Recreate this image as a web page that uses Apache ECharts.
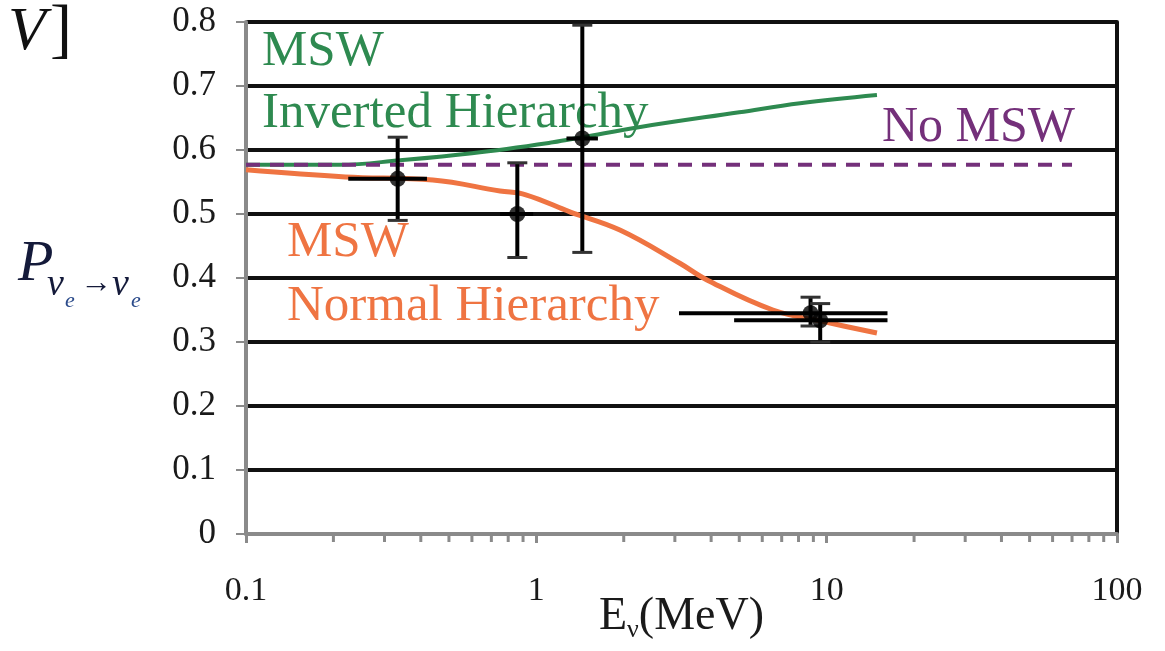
<!DOCTYPE html>
<html>
<head>
<meta charset="utf-8">
<script src="https://cdn.jsdelivr.net/npm/echarts@6/dist/echarts.min.js"></script>
<style>
  html, body { margin: 0; padding: 0; background: #fff; }
  #chart { width: 1165px; height: 651px; }
</style>
</head>
<body>
<div id="chart"></div>
<script>
// survival probability vs neutrino energy (log x)
var yTicks = [0, 0.1, 0.2, 0.3, 0.4, 0.5, 0.6, 0.7, 0.8];
var minorTicks = [0.2, 0.3, 0.4, 0.5, 0.6, 0.7, 0.8, 0.9,
                  2, 3, 4, 5, 6, 7, 8, 9,
                  20, 30, 40, 50, 60, 70, 80, 90];

// MSW inverted hierarchy (green)
var invE = [0.1, 0.21, 0.34, 0.6, 1.14, 1.44, 2.28, 5.0, 8.1, 14.9];
var invP = [0.577, 0.577, 0.584, 0.595, 0.612, 0.62, 0.636, 0.659, 0.673, 0.686];

// MSW normal hierarchy (orange)
var norE = [0.1, 0.22, 0.44, 0.75, 0.92, 1.31, 1.94, 3.12, 3.87, 6.53, 10.2, 14.9];
var norP = [0.569, 0.558, 0.553, 0.536, 0.53, 0.503, 0.475, 0.423, 0.397, 0.35, 0.33, 0.314];

// no MSW (dashed purple)
var noMswE = [0.1, 70];
var noMswP = [0.577, 0.577];

// measurements: energy, P, E low, E high, P low, P high
var measE   = [0.333, 0.86, 1.44, 8.8, 9.5];
var measP   = [0.555, 0.50, 0.618, 0.345, 0.334];
var measElo = [0.225, 0.75, 1.27, 3.1, 4.8];
var measEhi = [0.42, 0.975, 1.63, 16.2, 16.2];
var measPlo = [0.49, 0.432, 0.44, 0.325, 0.30];
var measPhi = [0.62, 0.58, 0.795, 0.37, 0.36];

var serif = '"Liberation Serif", "DejaVu Serif", serif';
var green = '#2e8a50';
var orange = '#ef7442';
var purple = '#74307a';

function pairs(xs, ys) {
    return xs.map(function (x, i) { return [x, ys[i]]; });
}

var errData = measE.map(function (e, i) {
    return [e, measP[i], measElo[i], measEhi[i], measPlo[i], measPhi[i]];
});

var chart = echarts.init(document.getElementById('chart'));

var option = {
    animation: false,
    backgroundColor: '#fff',
    grid: {left: 246, right: 48, top: 22, bottom: 117, containLabel: false, outerBoundsMode: 'none'},
    xAxis: {
        type: 'log',
        logBase: 10,
        min: 0.1,
        max: 100,
        name: '{e|E}{s|ν}{e|(MeV)}',
        nameLocation: 'middle',
        nameGap: 57,
        nameMoveOverlap: false,
        nameTextStyle: {
            rich: {
                e: {fontFamily: serif, fontSize: 46, color: '#1a1a1a'},
                s: {fontFamily: serif, fontSize: 26, color: '#1a1a1a', padding: [26, 0, 0, 0]}
            }
        },
        axisLine: {show: true, lineStyle: {color: '#8a8a8a', width: 4}},
        axisTick: {show: true, length: 9, lineStyle: {color: '#8a8a8a', width: 3}},
        splitLine: {show: false},
        minorTick: {show: false},
        axisLabel: {
            fontFamily: serif, fontSize: 34, color: '#1a1a1a', margin: 40,
            formatter: function (v) { return v < 1 ? v.toFixed(1) : String(Math.round(v)); }
        }
    },
    yAxis: [{
        type: 'value',
        min: 0,
        max: 0.8,
        interval: 0.1,
        axisLine: {show: true, lineStyle: {color: '#8a8a8a', width: 4}},
        axisTick: {show: true, length: 10, lineStyle: {color: '#8a8a8a', width: 2}},
        splitLine: {show: true, showMinLine: false, lineStyle: {color: '#111', width: 4}},
        axisLabel: {
            fontFamily: serif, fontSize: 35, color: '#1a1a1a', margin: 30,
            formatter: function (v) {
                var t = yTicks.find(function (k) { return Math.abs(k - v) < 1e-6; });
                return t === 0 ? '0' : String(t);
            }
        }
    }, {
        type: 'value',
        min: 0,
        max: 0.8,
        position: 'right',
        axisLine: {show: true, lineStyle: {color: '#111', width: 4}},
        axisTick: {show: false},
        axisLabel: {show: false},
        splitLine: {show: false}
    }],
    series: [
        {
            name: 'No MSW',
            type: 'line',
            data: pairs(noMswE, noMswP),
            showSymbol: false,
            lineStyle: {color: purple, width: 4, type: [14, 10]},
            z: 3
        },
        {
            name: 'Inverted',
            type: 'line',
            data: pairs(invE, invP),
            smooth: 0.4,
            showSymbol: false,
            lineStyle: {color: green, width: 4},
            z: 2
        },
        {
            name: 'Normal',
            type: 'line',
            data: pairs(norE, norP),
            smooth: 0.4,
            showSymbol: false,
            lineStyle: {color: orange, width: 5},
            z: 4
        },
        {
            name: 'errors',
            type: 'custom',
            data: errData,
            clip: false,
            z: 5,
            renderItem: function (params, api) {
                var c = api.coord([api.value(0), api.value(1)]);
                var l = api.coord([api.value(2), api.value(1)]);
                var r = api.coord([api.value(3), api.value(1)]);
                var lo = api.coord([api.value(0), api.value(4)]);
                var hi = api.coord([api.value(0), api.value(5)]);
                var st = {stroke: '#000', lineWidth: 4};
                var cap = 10;
                return {
                    type: 'group',
                    children: [
                        {type: 'line', shape: {x1: l[0], y1: c[1], x2: r[0], y2: c[1]}, style: st},
                        {type: 'line', shape: {x1: c[0], y1: lo[1], x2: c[0], y2: hi[1]}, style: st},
                        {type: 'line', shape: {x1: c[0] - cap, y1: lo[1], x2: c[0] + cap, y2: lo[1]}, style: {stroke: '#333', lineWidth: 3}},
                        {type: 'line', shape: {x1: c[0] - cap, y1: hi[1], x2: c[0] + cap, y2: hi[1]}, style: {stroke: '#333', lineWidth: 3}}
                    ]
                };
            }
        },
        {
            name: 'points',
            type: 'scatter',
            data: pairs(measE, measP),
            symbol: 'circle',
            symbolSize: 16,
            itemStyle: {color: '#000'},
            z: 6
        },
        {
            name: 'minor',
            type: 'custom',
            data: minorTicks.map(function (v) { return [v, 0]; }),
            clip: false,
            silent: true,
            z: 2,
            renderItem: function (params, api) {
                var p = api.coord([api.value(0), 0]);
                return {
                    type: 'line',
                    shape: {x1: p[0], y1: p[1], x2: p[0], y2: p[1] + 8},
                    style: {stroke: '#8a8a8a', lineWidth: 3}
                };
            }
        }
    ],
    graphic: [
        {type: 'text', left: 262, top: 26, style: {text: 'MSW', fontFamily: serif, fontSize: 51, fill: green}},
        {type: 'text', left: 262, top: 88, style: {text: 'Inverted Hierarchy', fontFamily: serif, fontSize: 51, fill: green}},
        {type: 'text', left: 287, top: 217, style: {text: 'MSW', fontFamily: serif, fontSize: 51, fill: orange}},
        {type: 'text', left: 287, top: 281, style: {text: 'Normal Hierarchy', fontFamily: serif, fontSize: 51, fill: orange}},
        {type: 'text', left: 882, top: 103, style: {text: 'No MSW', fontFamily: serif, fontSize: 50, fill: purple}},
        // y axis title
        {type: 'text', left: 18, top: 236, style: {text: 'P', fontFamily: serif, fontStyle: 'italic', fontSize: 58, fill: '#141a3a'}},
        {type: 'text', left: 47, top: 266, style: {text: 'ν', fontFamily: serif, fontStyle: 'italic', fontSize: 38, fill: '#141a3a'}},
        {type: 'text', left: 65, top: 290, style: {text: 'e', fontFamily: serif, fontStyle: 'italic', fontSize: 22, fill: '#2a4a8a'}},
        {type: 'text', left: 80, top: 268, style: {text: '→', fontFamily: serif, fontSize: 32, fill: '#141a3a'}},
        {type: 'text', left: 112, top: 266, style: {text: 'ν', fontFamily: serif, fontStyle: 'italic', fontSize: 38, fill: '#141a3a'}},
        {type: 'text', left: 131, top: 290, style: {text: 'e', fontFamily: serif, fontStyle: 'italic', fontSize: 22, fill: '#2a4a8a'}},
        // cut-off unit fragment at top left
        {type: 'text', left: 8, top: 2, style: {text: 'V', fontFamily: serif, fontStyle: 'italic', fontSize: 62, fill: '#111'}},
        {type: 'text', left: 50, top: 0, style: {text: ']', fontFamily: serif, fontSize: 66, fill: '#111'}}
    ]
};

chart.setOption(option);
</script>
</body>
</html>
